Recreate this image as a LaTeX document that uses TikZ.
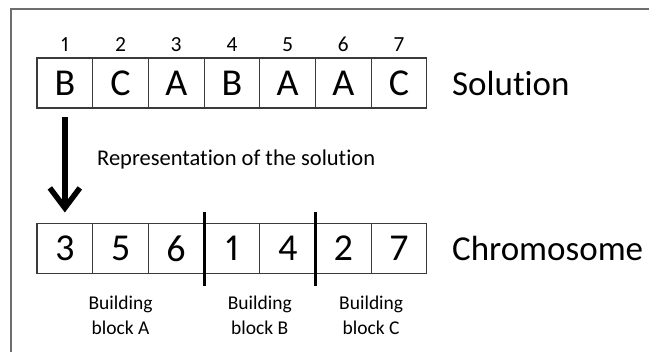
\documentclass[tikz,border=0pt]{standalone}
\usepackage{fontspec}
\setmainfont{Carlito}[Ligatures=NoCommon, Numbers={Lining,Proportional}]
\usepackage{tikz}
\usetikzlibrary{positioning,arrows.meta}
\definecolor{ChrFrame}{HTML}{6E6E6E}
\definecolor{ChrCell}{HTML}{3A3A3A}
\definecolor{ChrInk}{HTML}{000000}

\begin{document}
\begin{tikzpicture}[x=1pt, y=-1pt, node distance=0pt,
    cell/.style={draw=ChrCell, line width=1.1pt, minimum width=55.7pt,
                 minimum height=50pt, inner sep=0pt, outer sep=0pt,
                 font=\fontsize{38}{42}\selectfont},
    idx/.style={inner sep=0pt, font=\fontsize{21.5}{24}\selectfont},
    lbl/.style={inner sep=0pt, font=\fontsize{35}{40}\selectfont},
    blk/.style={inner sep=0pt, align=center, font=\fontsize{19.5}{25}\selectfont}]
  \useasboundingbox (0,0) rectangle (649,352);
  \draw[ChrFrame, line width=2pt] (11,352) -- (11,8.7) -- (649,8.7);

  % the solution as it is
  \node[cell] (s1) at (64.85,83) {B};
  \node[cell, right=of s1] (s2) {C};
  \node[cell, right=of s2] (s3) {A};
  \node[cell, right=of s3] (s4) {B};
  \node[cell, right=of s4] (s5) {A};
  \node[cell, right=of s5] (s6) {A};
  \node[cell, right=of s6] (s7) {C};
  \node[idx, above=6pt of s1] (n1) {1};
  \node[idx, above=6pt of s2] (n2) {2};
  \node[idx, above=6pt of s3] (n3) {3};
  \node[idx, above=6pt of s4] (n4) {4};
  \node[idx, above=6pt of s5] (n5) {5};
  \node[idx, above=6pt of s6] (n6) {6};
  \node[idx, above=6pt of s7] (n7) {7};
  \node[lbl, right=25pt of s7] (sol) {Solution};

  % the chromosome
  \node[cell] (c1) at (64.85,248.5) {3};
  \node[cell, right=of c1] (c2) {5};
  \node[cell, right=of c2] (c3) {6};
  \node[cell, right=of c3] (c4) {1};
  \node[cell, right=of c4] (c5) {4};
  \node[cell, right=of c5] (c6) {2};
  \node[cell, right=of c6] (c7) {7};
  \node[lbl, right=25pt of c7] (chr) {Chromosome};

  \draw[ChrInk, line width=3pt] ([yshift=11pt]c3.north east) -- ([yshift=-13pt]c3.south east);
  \draw[ChrInk, line width=3pt] ([yshift=11pt]c5.north east) -- ([yshift=-13pt]c5.south east);

  \node[blk, below=22pt of c2] (bA) {Building\\block A};
  \node[blk, below=22pt of c4.south east] (bB) {Building\\block B};
  \node[blk, below=22pt of c6.south east] (bC) {Building\\block C};

  \draw[-{Straight Barb[length=20pt,width=30pt]}, ChrInk, line width=5.5pt,
        shorten <=9pt, shorten >=11pt] (s1) -- (c1);
  \node[idx, font=\fontsize{22.5}{26}\selectfont, anchor=west] (rep)
        at (97,160) {Representation of the solution};
\end{tikzpicture}
\end{document}
